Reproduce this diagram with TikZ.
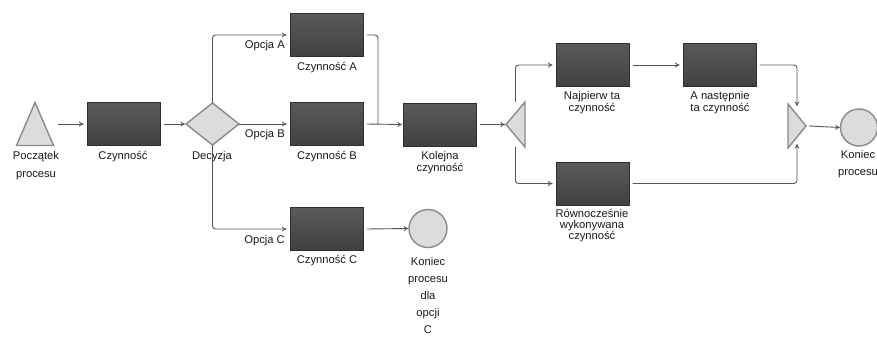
\documentclass[tikz,border=0pt]{standalone}
\usepackage{fontspec}
\setmainfont{Liberation Sans}
\usetikzlibrary{arrows.meta}
\definecolor{boxfill}{HTML}{4C4C4C}
\definecolor{boxtop}{HTML}{5A5A5A}
\definecolor{boxline}{HTML}{2E2E2E}
\definecolor{gwfill}{HTML}{DCDCDC}
\definecolor{gwline}{HTML}{8A8A8A}
\definecolor{conn}{HTML}{555555}
\tikzset{
  task/.style={draw=boxline, line width=1pt, top color=boxtop, bottom color=boxfill!85!black,
    minimum width=73pt, minimum height=43pt, inner sep=0pt},
  holder/.style={inner sep=0pt, outer sep=0pt},
  gwshape/.style={draw=gwline, fill=gwfill, line width=1.4pt, line join=miter},
  evt/.style={circle, draw=gwline, fill=gwfill, line width=1.4pt, inner sep=0pt},
  lbl/.style={font=\fontsize{11.2}{12}\selectfont, text=black!90, inner sep=0pt, align=center},
  flow/.style={draw=conn, line width=0.9pt, -{To[length=4.5pt,width=5pt]}, rounded corners=3pt},
  plain/.style={draw=conn, line width=0.9pt, rounded corners=3pt},
}
\begin{document}
\begin{tikzpicture}[x=1pt,y=-1pt]
\useasboundingbox (0,0) rectangle (877,337);
\clip (0,0) rectangle (877,337);

% start event (triangle)
\node[holder, minimum width=37pt, minimum height=43pt] (start) at (35,124) {};
\draw[gwshape] (start.south west) -- (start.north) -- (start.south east) -- cycle;
\node[lbl, font=\fontsize{11.2}{18}\selectfont] (startl) at (36,166) {Początek\\procesu};

% task Czynnosc
\node[task] (t1) at (123.5,124) {};
\node[lbl] (t1l) at (123,157) {Czynność};

% decision
\node[holder, minimum width=53pt, minimum height=42pt] (dec) at (212.5,124) {};
\draw[gwshape] (dec.west) -- (dec.north) -- (dec.east) -- (dec.south) -- cycle;
\node[lbl] (decl) at (212,157) {Decyzja};

% options
\node[task] (ta) at (326.5,35) {};
\node[lbl] (tal) at (327,68) {Czynność A};
\node[task] (tb) at (326.5,124) {};
\node[lbl] (tbl) at (327,157) {Czynność B};
\node[task] (tc) at (326.5,229) {};
\node[lbl] (tcl) at (327,261) {Czynność C};

\node[lbl, anchor=east] (oa) at (285,46) {Opcja A};
\node[lbl, anchor=east] (ob) at (285,135) {Opcja B};
\node[lbl, anchor=east] (oc) at (285,241) {Opcja C};

% end C
\node[evt, minimum size=38pt] (endc) at (428,228.5) {};
\node[lbl, font=\fontsize{11.2}{17}\selectfont] (endcl) at (428,295) {Koniec\\procesu\\dla\\opcji\\C};

% Kolejna
\node[task] (tk) at (440,124.5) {};
\node[lbl] (tkl) at (440,163) {Kolejna\\czynność};

% split gateway (triangle pointing left)
\node[holder, minimum width=19pt, minimum height=45pt] (split) at (515.5,124.5) {};
\draw[gwshape] (split.west) -- (split.north east) -- (split.south east) -- cycle;

% parallel tasks
\node[task] (tn) at (592.5,65) {};
\node[lbl] (tnl) at (592,103) {Najpierw ta\\czynność};
\node[task] (tan) at (719.5,65) {};
\node[lbl] (tanl) at (720,103) {A następnie\\ta czynność};
\node[task] (tr) at (592.5,183.5) {};
\node[lbl, font=\fontsize{11.2}{10.5}\selectfont] (trl) at (592,226) {Równocześnie\\wykonywana\\czynność};

% join gateway (triangle pointing right)
\node[holder, minimum width=18pt, minimum height=44pt] (join) at (797,126) {};
\draw[gwshape] (join.north west) -- (join.east) -- (join.south west) -- cycle;

% end
\node[evt, minimum size=37pt] (end) at (859,127.5) {};
\node[lbl, font=\fontsize{11.2}{17}\selectfont] (endl) at (858,164.5) {Koniec\\procesu};

% connectors
\coordinate (m) at (378,124);
\draw[flow] ([xshift=4pt]start.east) -- ([xshift=-3pt]t1.west);
\draw[flow] ([xshift=3pt]t1.east) -- ([xshift=-1pt]dec.west);
\draw[flow] (dec.north) |- ([xshift=-3pt]ta.west);
\draw[flow] (dec.east) -- ([xshift=-3pt]tb.west);
\draw[flow] (dec.south) |- ([xshift=-3pt]tc.west);
\draw[flow] ([xshift=3pt]tc.east) -- (endc.west);
\draw[plain] ([xshift=3pt]ta.east) -| (m);
\draw[flow] ([xshift=3pt]tb.east) -- ([xshift=-1pt]tk.west);
\draw[flow] ([xshift=3pt]tk.east) -- ([xshift=-1pt]split.west);
\draw[flow] (split.north) |- ([xshift=-3pt]tn.west);
\draw[flow] (split.south) |- ([xshift=-3pt]tr.west);
\draw[flow] ([xshift=3pt]tn.east) -- ([xshift=-3pt]tan.west);
\draw[flow] ([xshift=3pt]tan.east) -| ([yshift=-2pt]join.north);
\draw[flow] ([xshift=3pt]tr.east) -| ([yshift=4pt]join.south);
\draw[flow] ([xshift=3pt]join.east) -- (end.west);
\end{tikzpicture}
\end{document}
